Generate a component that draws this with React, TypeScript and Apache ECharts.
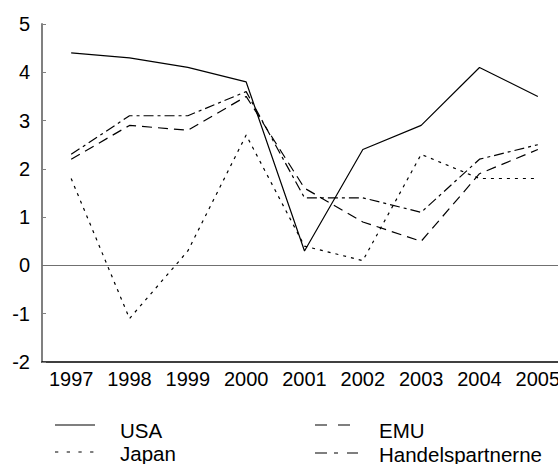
import React, { useEffect, useRef } from "react";
import * as echarts from "echarts";

const years = ["1997", "1998", "1999", "2000", "2001", "2002", "2003", "2004", "2005"];
const usa = [4.4, 4.3, 4.1, 3.8, 0.3, 2.4, 2.9, 4.1, 3.5];
const japan = [1.8, -1.1, 0.3, 2.7, 0.4, 0.1, 2.3, 1.8, 1.8];
const emu = [2.2, 2.9, 2.8, 3.5, 1.6, 0.9, 0.5, 1.9, 2.4];
const handels = [2.3, 3.1, 3.1, 3.6, 1.4, 1.4, 1.1, 2.2, 2.5];
const seriesNames = ["USA", "Japan", "EMU", "Handelspartnerne"];

const FONT = "'Liberation Sans', Arial, Helvetica, sans-serif";

const dashes: Record<string, any> = {
  USA: "solid",
  Japan: [3, 5],
  EMU: [10, 6],
  Handelspartnerne: [10, 4, 3, 4],
};
const legendDashes: Record<string, any> = {
  USA: null,
  Japan: [3.3, 8.4],
  EMU: [12, 11],
  Handelspartnerne: [12, 7, 4, 9],
};

export default function App() {
  const ref = useRef<HTMLDivElement>(null);
  useEffect(() => {
    if (!ref.current) return;
    const chart = echarts.init(ref.current, null, { renderer: "svg" });
    const dataSets = [usa, japan, emu, handels];
    const legendPos = [
      { x: 55, y: 425, w: 40, tx: 120, ty: 430 },
      { x: 55, y: 452, w: 40, tx: 120, ty: 453.5 },
      { x: 315, y: 425, w: 35, tx: 379, ty: 430 },
      { x: 315, y: 453, w: 43, tx: 379, ty: 454 },
    ];
    const graphics: any[] = [];
    seriesNames.forEach((name, i) => {
      const p = legendPos[i];
      graphics.push({
        type: "line",
        shape: { x1: p.x, y1: p.y, x2: p.x + p.w, y2: p.y },
        style: {
          stroke: "#000",
          lineWidth: 1.2,
          lineDash: legendDashes[name] || undefined,
        },
        silent: true,
      });
      graphics.push({
        type: "text",
        x: p.tx,
        y: p.ty,
        style: {
          text: name,
          fill: "#000",
          font: `20.5px ${FONT}`,
          verticalAlign: "middle",
          align: "left",
        },
        silent: true,
      });
    });

    chart.setOption({
      animation: false,
      backgroundColor: "#fff",
      textStyle: { fontFamily: FONT },
      grid: { left: 42, top: 24, width: 525, height: 338, containLabel: false },
      xAxis: {
        type: "category",
        data: years,
        boundaryGap: true,
        axisLine: { onZero: false, lineStyle: { color: "#000", width: 1.5 } },
        axisTick: { inside: true, length: 5, lineStyle: { color: "#000" } },
        axisLabel: { interval: 0, fontSize: 20, color: "#000", margin: 7, fontFamily: FONT },
        splitLine: { show: false },
      },
      yAxis: {
        type: "value",
        min: -2,
        max: 5,
        interval: 1,
        axisLine: { show: true, lineStyle: { color: "#808080", width: 2 } },
        axisTick: { show: true, inside: true, length: 4, lineStyle: { color: "#808080" } },
        axisLabel: { fontSize: 20, color: "#000", margin: 12, fontFamily: FONT },
        splitLine: { show: false },
      },
      graphic: graphics,
      series: seriesNames.map((name, i) => ({
        name,
        type: "line",
        data: dataSets[i],
        symbol: "none",
        smooth: false,
        lineStyle: { color: "#000", width: 1.2, type: dashes[name] },
        z: 3,
        markLine:
          i === 0
            ? {
                silent: true,
                symbol: "none",
                label: { show: false },
                lineStyle: { color: "#707070", type: "solid", width: 1.2 },
                data: [{ yAxis: 0 }],
                z: 1,
              }
            : undefined,
      })),
    });
    return () => chart.dispose();
  }, []);
  return (
    <div
      style={{
        position: "absolute",
        left: 0,
        top: 0,
        width: 558,
        height: 464,
        overflow: "hidden",
        background: "#fff",
      }}
    >
      <div ref={ref} style={{ width: 600, height: 464 }} />
    </div>
  );
}
